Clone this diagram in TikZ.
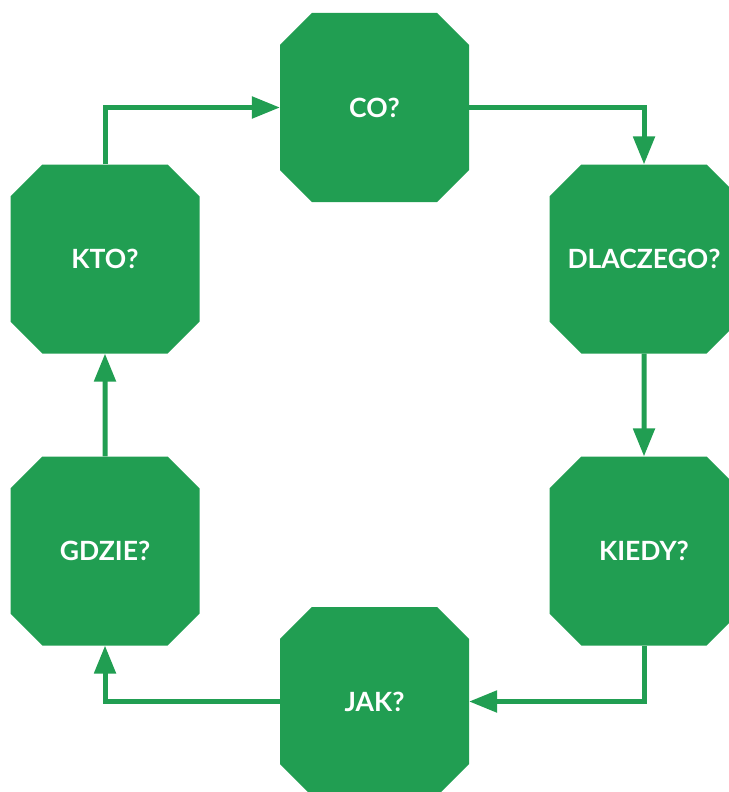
\documentclass[tikz,border=0pt]{standalone}
\usepackage{fontspec}
\setmainfont{Lato}
\usetikzlibrary{shapes.misc,arrows.meta}
\definecolor{qgreen}{RGB}{33,158,82}

\begin{document}
\begin{tikzpicture}[x=1pt,y=-1pt,line width=5pt,draw=qgreen,font=\fontsize{26.5}{30}\selectfont\bfseries]
    \tikzstyle{question}=[chamfered rectangle,chamfered rectangle sep=22pt,fill=qgreen,draw=none,
        minimum width=189pt,minimum height=189pt,inner sep=0pt,outer sep=0pt,text=white]
    \tikzstyle{flow}=[-{Triangle[length=28pt,width=21pt]},qgreen]

    \useasboundingbox (0,0) rectangle (728,792);

    \node[question] (co) at (374.5,107.5) {CO?};
    \node[question] (dlaczego) at (644,259) {DLACZEGO?};
    \node[question] (kiedy) at (644,551) {KIEDY?};
    \node[question] (jak) at (374.5,701.5) {JAK?};
    \node[question] (gdzie) at (105,551) {GDZIE?};
    \node[question] (kto) at (105,259) {KTO?};

    \draw[flow] (co) -| (dlaczego);
    \draw[flow] (dlaczego) -- (kiedy);
    \draw[flow] (kiedy) |- (jak);
    \draw[flow] (jak) -| (gdzie);
    \draw[flow] (gdzie) -- (kto);
    \draw[flow] (kto) |- (co);
\end{tikzpicture}
\end{document}
